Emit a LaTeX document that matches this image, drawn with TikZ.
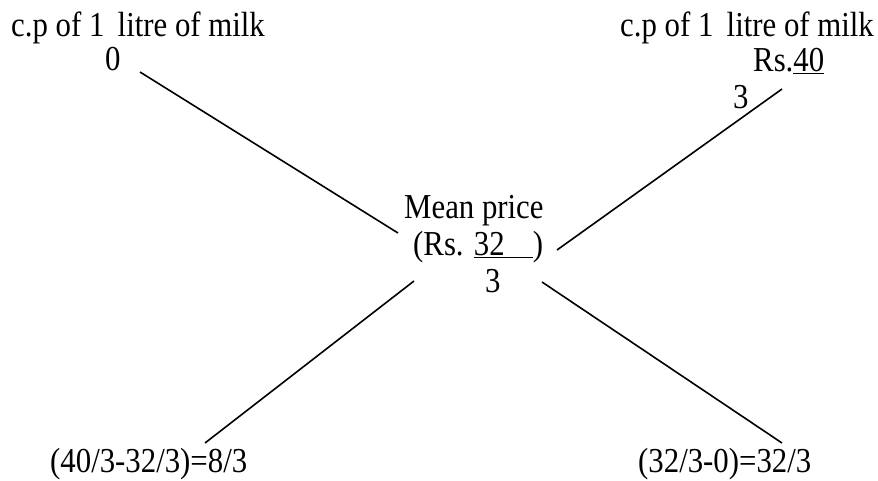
\documentclass[tikz,border=0pt]{standalone}
\usepackage{fontspec}
\setmainfont{Liberation Serif}[FakeStretch=0.88]
\usepackage{tikz}
\usetikzlibrary{positioning, calc}

\begin{document}
\begin{tikzpicture}[
    x=1pt, y=-1pt,
    every node/.style={font=\fontsize{35}{40}\selectfont, inner sep=0pt, anchor=base west},
    rule/.style={line width=1.6pt},
]
    \useasboundingbox (0, 0) rectangle (878, 480);

    % Cost prices
    \node (cpleft) at (11, 36) {c.p of 1\hspace{0.38em}litre of milk};
    \node (zero) at (105, 70) {0};
    \node (cpright) at (620, 36) {c.p of 1\hspace{0.38em}litre of milk};
    \node (rsforty) at (753, 71) {Rs.\underline{40}};
    \node (fortyden) at (733, 108) {3};

    % Mean price
    \node (mean) at (404, 218) {Mean price};
    \node (rsmean) at (413, 255) {(Rs. \underline{32\hspace{28pt}})};
    \node (meanden) at (485, 292) {3};

    % Differences
    \node (diffleft) at (50, 472) {(40/3-32/3)=8/3};
    \node (diffright) at (638, 472) {(32/3-0)=32/3};

    % Line ends
    \coordinate (zeroend) at (140, 72);
    \coordinate (meantl) at (398, 233);
    \coordinate (meantr) at (557, 250);
    \coordinate (fortyend) at (782, 89);
    \coordinate (meanbl) at (414, 281);
    \coordinate (leftend) at (205, 443);
    \coordinate (meanbr) at (542, 282);
    \coordinate (rightend) at (782, 443);

    % Cross
    \draw[rule] (zeroend) -- (meantl);
    \draw[rule] (meantr) -- (fortyend);
    \draw[rule] (meanbl) -- (leftend);
    \draw[rule] (meanbr) -- (rightend);
\end{tikzpicture}
\end{document}
